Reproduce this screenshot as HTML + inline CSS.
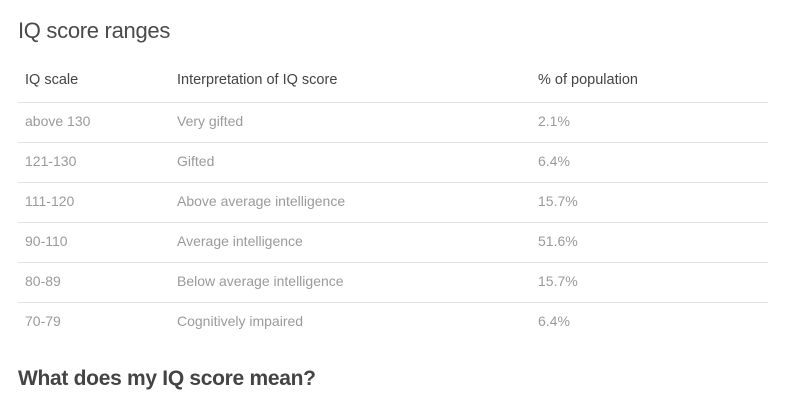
<!DOCTYPE html>
<html><head><meta charset="utf-8"><style>
body{margin:0;width:800px;height:408px;background:#fff;font-family:"Liberation Sans",sans-serif;position:relative;overflow:hidden}
.t{position:absolute;white-space:nowrap}
h2{margin:0;position:absolute;left:18px;font-weight:normal;font-size:22px;color:#4a4a4a;letter-spacing:-0.3px}
.hd{font-size:14.5px;color:#444;top:72px}
.c{font-size:14px;color:#9a9a9a}
.ln{position:absolute;left:18px;width:750px;height:1px;background:#e2e2e2}
</style></head><body>
<h2 style="top:18px">IQ score ranges</h2>
<div class="t hd" style="left:25px">IQ scale</div>
<div class="t hd" style="left:177px">Interpretation of IQ score</div>
<div class="t hd" style="left:538px">% of population</div>
<div id="rows"></div>
<h2 style="top:367px;font-weight:bold;color:#444;font-size:21px">What does my IQ score mean?</h2>
<script>
const scales=["above 130","121-130","111-120","90-110","80-89","70-79"];
const interp=["Very gifted","Gifted","Above average intelligence","Average intelligence","Below average intelligence","Cognitively impaired"];
const pct=["2.1%","6.4%","15.7%","51.6%","15.7%","6.4%"];
const root=document.getElementById('rows');
scales.forEach((s,i)=>{
  const y=102+i*40;
  const ln=document.createElement('div');ln.className='ln';ln.style.top=y+'px';
  
  
  root.appendChild(ln);
  [[s,25],[interp[i],177],[pct[i],538]].forEach(([txt,x],j)=>{
    const d=document.createElement('div');d.className='t c';d.textContent=txt;
    d.style.left=x+'px';d.style.top=(y+11)+'px';
    
    
    root.appendChild(d);
  });
});
</script>
</body></html>
